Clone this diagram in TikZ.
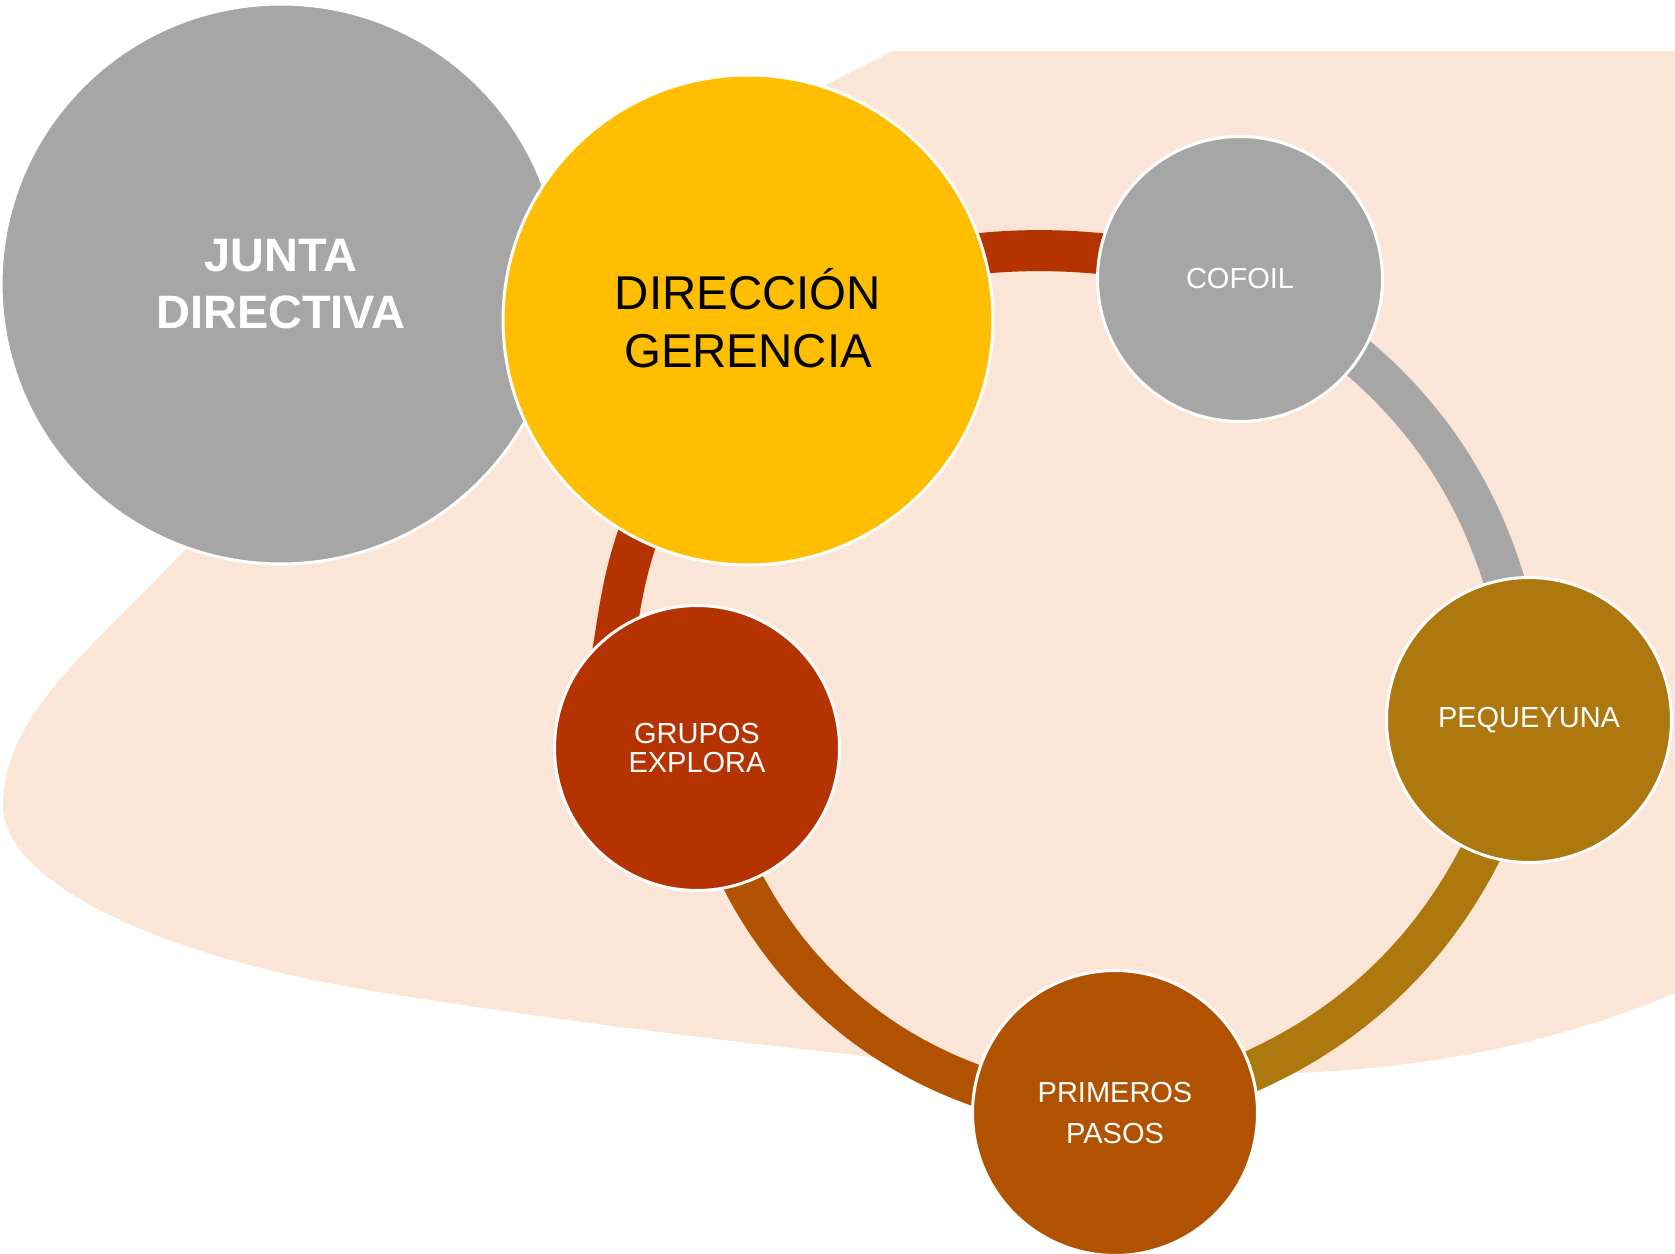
\documentclass[tikz,border=0pt]{standalone}
\usepackage{fontspec}
\setmainfont{Liberation Sans}
\usepackage{tikz}
\usetikzlibrary{backgrounds}
\definecolor{cgray}{rgb}{0.65, 0.65, 0.65}
\definecolor{cyellow}{rgb}{1.0, 0.75, 0.0}
\definecolor{cred}{rgb}{0.71, 0.2, 0.0}
\definecolor{cbrown}{rgb}{0.69, 0.32, 0.0}
\definecolor{cochre}{rgb}{0.68, 0.47, 0.05}
\definecolor{cpeach}{rgb}{0.98, 0.9, 0.84}

\begin{document}
\begin{tikzpicture}[x=0.02cm,y=-0.02cm,
  main node/.style={circle,draw=white,line width=1.7pt,inner sep=0pt,align=center,text=white},
  big node/.style={main node,minimum size=11.2cm,fill=cgray,font=\fontsize{26.7}{32.4}\selectfont\bfseries},
  head node/.style={main node,minimum size=9.8cm,fill=cyellow,text=black,font=\fontsize{27}{32.8}\selectfont},
  others node/.style={main node,minimum size=5.7cm,font=\fontsize{16.5}{16.5}\selectfont},
  band/.style={line width=0.82cm}]
  \useasboundingbox (0,0) rectangle (1675,1253);

  \node[big node] (0) at (281,284) {JUNTA\\DIRECTIVA};
  \node[head node] (1) at (748,320) {\raisebox{2pt}{DIRECCIÓN}\\\raisebox{2pt}{GERENCIA}};
  \node[others node,fill=cgray] (2) at (1240,279) {COFOIL};
  \node[others node,fill=cochre] (3) at (1529,720) {PEQUEYUNA};
  \node[others node,fill=cbrown,font=\fontsize{16.5}{23.3}\selectfont] (4) at (1115,1113) {PRIMEROS\\PASOS};
  \node[others node,fill=cred] (5) at (697,748) {GRUPOS\\EXPLORA};

  \begin{scope}[on background layer]
    % peach backdrop
    \fill[cpeach] (893,51) -- (1675,51) -- (1675,993)
      .. controls (1540,1050) and (1400,1072) .. (1260,1074)
      .. controls (1150,1074) and (1000,1069) .. (893,1059)
      .. controls (700,1039) and (500,1012) .. (367,990)
      .. controls (167,957) and (3,885) .. (3,805)
      .. controls (3,715) and (94,646) .. (184,551)
      .. controls (400,330) and (650,170) .. (893,51) -- cycle;
    \path[band]
      (1.center) edge[bend left=19,draw=cred] (2.center)
      (2.center) edge[bend left=29,draw=cgray] (3.center)
      (3.center) edge[bend left=33,draw=cochre] (4.center)
      (4.center) edge[bend left=38,draw=cbrown] (5.center)
      (5.124) edge[out=81,in=250,shorten <=-0.6cm,shorten >=-0.6cm,draw=cred] (1.243);
  \end{scope}
\end{tikzpicture}
\end{document}
